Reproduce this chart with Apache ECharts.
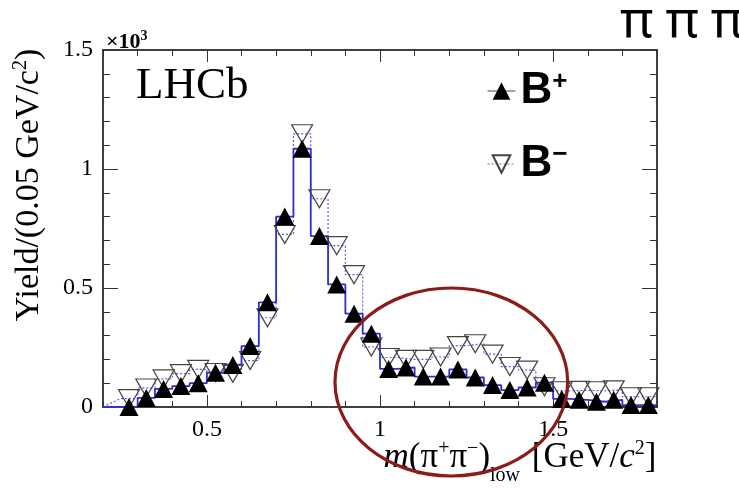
<!DOCTYPE html>
<html>
<head>
<meta charset="utf-8">
<script src="https://cdn.jsdelivr.net/npm/echarts@6/dist/echarts.min.js"></script>
<style>
  html, body { margin: 0; padding: 0; background: #fff; }
  #chart { width: 739px; height: 503px; }
</style>
</head>
<body>
<div id="chart"></div>
<script>
// m(pi+ pi-)_low bin centres [GeV/c^2], 0.05 GeV wide bins
const massBins = [
  0.275, 0.325, 0.375, 0.425, 0.475, 0.525, 0.575, 0.625, 0.675, 0.725,
  0.775, 0.825, 0.875, 0.925, 0.975, 1.025, 1.075, 1.125, 1.175, 1.225,
  1.275, 1.325, 1.375, 1.425, 1.475, 1.525, 1.575, 1.625, 1.675, 1.725,
  1.775
];
const binWidth = 0.05;

// Yields per bin, in units of 10^3
const yieldBplus = [
  0.000, 0.038, 0.076, 0.088, 0.100, 0.144, 0.176, 0.256, 0.440, 0.800,
  1.085, 0.718, 0.515, 0.392, 0.308, 0.160, 0.166, 0.128, 0.128, 0.158,
  0.124, 0.092, 0.071, 0.082, 0.102, 0.034, 0.030, 0.022, 0.030, 0.008,
  0.008
];
const yieldBminus = [
  0.035, 0.080, 0.118, 0.140, 0.158, 0.145, 0.142, 0.195, 0.375, 0.725,
  1.148, 0.875, 0.678, 0.556, 0.252, 0.208, 0.200, 0.200, 0.210, 0.258,
  0.266, 0.222, 0.170, 0.155, 0.085, 0.068, 0.070, 0.068, 0.072, 0.043,
  0.043
];

// Axis ranges and labelled ticks
const xRange = [0.2, 1.8];
const yRange = [0, 1.5];
const xMajorTicks = [0.5, 1, 1.5];

// Highlighted region (data coordinates): centre and half-extents
const highlightCentre = [1.206, 0.105];
const highlightHalf = [0.336, 0.395];

const serif = '"Liberation Serif", "Times New Roman", serif';
const sans = '"Liberation Sans", Arial, sans-serif';

function histogramSteps(values) {
  const pts = [[xRange[0], 0]];
  values.forEach((v, i) => {
    pts.push([massBins[i] - binWidth / 2, v]);
    pts.push([massBins[i] + binWidth / 2, v]);
  });
  return pts;
}
function points(values) {
  return values.map((v, i) => [massBins[i], v]);
}

const chart = echarts.init(document.getElementById('chart'), null, { renderer: 'canvas' });

const frameLine = { show: true, lineStyle: { color: '#000', width: 1.5 } };
const tickStyle = { color: '#333', width: 1 };

function xAxisBase(position) {
  return {
    type: 'value', position, min: xRange[0], max: xRange[1],
    splitLine: { show: false }, gridIndex: 0
  };
}

const legendRich = {
  b: { fontFamily: sans, fontWeight: 'bold', fontSize: 44, color: '#000', lineHeight: 44 },
  s: { fontFamily: sans, fontWeight: 'bold', fontSize: 26, color: '#000', verticalAlign: 'top', lineHeight: 20 }
};
const piRich = {
  p: { fontFamily: '"Noto Sans", sans-serif', fontSize: 51, fontWeight: 'normal', color: '#000', padding: [0, 6, 0, 6] }
};

const option = {
  animation: false,
  backgroundColor: '#fff',
  title: [
    {
      text: '{p|π}{p|π}{p|π}', right: -4, top: -8,
      textStyle: { rich: piRich }
    },
    {
      text: 'LHCb', left: 131, top: 59,
      textStyle: { fontFamily: serif, fontSize: 45, fontWeight: 'normal', color: '#000' }
    },
    {
      text: '{a|×10}{s|3}', left: 101, top: 24,
      textStyle: {
        rich: {
          a: { fontFamily: serif, fontSize: 22, color: '#000', lineHeight: 26 },
          s: { fontFamily: serif, fontSize: 14, color: '#000', verticalAlign: 'top', lineHeight: 14 }
        }
      }
    }
  ],
  legend: [
    {
      data: ['B+'], orient: 'vertical', left: 482, top: 64,
      itemWidth: 28, itemHeight: 22, itemGap: 8,
      lineStyle: { color: '#444', width: 1, opacity: 1 },
      formatter: () => '{b|B}{s|+}',
      textStyle: { rich: legendRich }
    },
    {
      data: ['B−'], orient: 'vertical', left: 482, top: 137,
      itemWidth: 28, itemHeight: 22, itemGap: 8,
      lineStyle: { color: '#777', width: 1, type: [2, 2], opacity: 1 },
      formatter: () => '{b|B}{s|−}',
      textStyle: { rich: legendRich }
    }
  ],
  grid: { left: 103, top: 50, width: 554, height: 357, outerBoundsMode: 'none' },
  xAxis: [
    // bottom minor ticks + frame
    Object.assign(xAxisBase('bottom'), {
      interval: 0.1,
      axisLine: frameLine,
      axisTick: { show: true, inside: true, length: 6, lineStyle: tickStyle },
      axisLabel: { show: false }
    }),
    // bottom major ticks, labels and title
    Object.assign(xAxisBase('bottom'), {
      axisLine: { show: false },
      axisTick: { show: true, inside: true, length: 12, customValues: xMajorTicks, lineStyle: tickStyle },
      axisLabel: {
        show: true, customValues: xMajorTicks, margin: 11,
        fontFamily: serif, fontSize: 24, color: '#000'
      },
      name: '{i|m}{n|(π}{p|+}{n|π}{p|−}{n|)}{d|low}{n| [GeV/}{i|c}{p|2}{n|]}',
      nameLocation: 'middle', nameGap: 32, nameMoveOverlap: false,
      nameTextStyle: {
        align: 'center', verticalAlign: 'top', padding: [0, 0, 0, 280],
        rich: {
          n: { fontFamily: serif, fontSize: 35, color: '#000', lineHeight: 38 },
          i: { fontFamily: serif, fontSize: 35, fontStyle: 'italic', color: '#000', lineHeight: 38 },
          p: { fontFamily: serif, fontSize: 20, color: '#000', verticalAlign: 'top', lineHeight: 20 },
          d: { fontFamily: serif, fontSize: 20, color: '#000', verticalAlign: 'top', lineHeight: 20, padding: [27, 3, 0, 0] }
        }
      }
    }),
    // top frame with ticks
    Object.assign(xAxisBase('top'), {
      interval: 0.1,
      axisLine: frameLine,
      axisTick: { show: true, inside: true, length: 6, lineStyle: tickStyle },
      axisLabel: { show: false }
    }),
    Object.assign(xAxisBase('top'), {
      axisLine: { show: false },
      axisTick: { show: true, inside: true, length: 12, customValues: xMajorTicks, lineStyle: tickStyle },
      axisLabel: { show: false }
    })
  ],
  yAxis: [
    {
      type: 'value', position: 'left', min: yRange[0], max: yRange[1], interval: 0.5,
      splitLine: { show: false },
      axisLine: frameLine,
      axisTick: { show: true, inside: true, length: 15, lineStyle: tickStyle },
      minorTick: { show: true, splitNumber: 5, length: 7, lineStyle: tickStyle },
      axisLabel: { margin: 10, fontFamily: serif, fontSize: 24, color: '#000' },
      name: '{a|Yield/(0.05 GeV/c}{s|2}{a|)}',
      nameLocation: 'middle', nameRotate: 90, nameGap: 56, nameMoveOverlap: false,
      nameTextStyle: {
        padding: [0, 0, 0, 87],
        rich: {
          a: { fontFamily: serif, fontSize: 34, color: '#000', lineHeight: 36 },
          s: { fontFamily: serif, fontSize: 20, color: '#000', verticalAlign: 'top', lineHeight: 20 }
        }
      }
    },
    {
      type: 'value', position: 'right', min: yRange[0], max: yRange[1], interval: 0.5,
      splitLine: { show: false },
      axisLine: frameLine,
      axisTick: { show: true, inside: true, length: 15, lineStyle: tickStyle },
      minorTick: { show: true, splitNumber: 5, length: 7, lineStyle: tickStyle },
      axisLabel: { show: false }
    }
  ],
  series: [
    {
      name: 'hist B-', type: 'line', xAxisIndex: 0, yAxisIndex: 0,
      data: histogramSteps(yieldBminus), showSymbol: false, z: 2,
      lineStyle: { color: '#5b5be0', width: 1.2, type: [2, 2] }
    },
    {
      name: 'hist B+', type: 'line', xAxisIndex: 0, yAxisIndex: 0,
      data: histogramSteps(yieldBplus), showSymbol: false, z: 3,
      lineStyle: { color: '#3030cc', width: 1.8 }
    },
    {
      name: 'B−', type: 'line', xAxisIndex: 0, yAxisIndex: 0,
      data: points(yieldBminus), z: 4,
      showSymbol: true, showAllSymbol: true,
      symbol: 'triangle', symbolRotate: 180, symbolSize: [21, 18],
      lineStyle: { opacity: 0 },
      itemStyle: { color: 'rgba(255,255,255,0)', borderColor: '#444', borderWidth: 1.2 }
    },
    {
      name: 'B+', type: 'line', xAxisIndex: 0, yAxisIndex: 0,
      data: points(yieldBplus), z: 5,
      showSymbol: true, showAllSymbol: true,
      symbol: 'triangle', symbolSize: [19, 18],
      lineStyle: { opacity: 0 },
      itemStyle: { color: '#000', borderColor: '#000', borderWidth: 0 }
    }
  ]
};

chart.setOption(option);

// Outline around the 1.0–1.5 GeV region, placed through the grid's own scale
const c = chart.convertToPixel({ gridIndex: 0 }, highlightCentre);
const e = chart.convertToPixel({ gridIndex: 0 },
  [highlightCentre[0] + highlightHalf[0], highlightCentre[1] + highlightHalf[1]]);
chart.setOption({
  graphic: [{
    type: 'ellipse', z: 100, silent: true,
    shape: { cx: c[0], cy: c[1], rx: Math.abs(e[0] - c[0]), ry: Math.abs(e[1] - c[1]) },
    style: { fill: 'none', stroke: '#8a1c1c', lineWidth: 3.2 }
  }]
});
</script>
</body>
</html>
